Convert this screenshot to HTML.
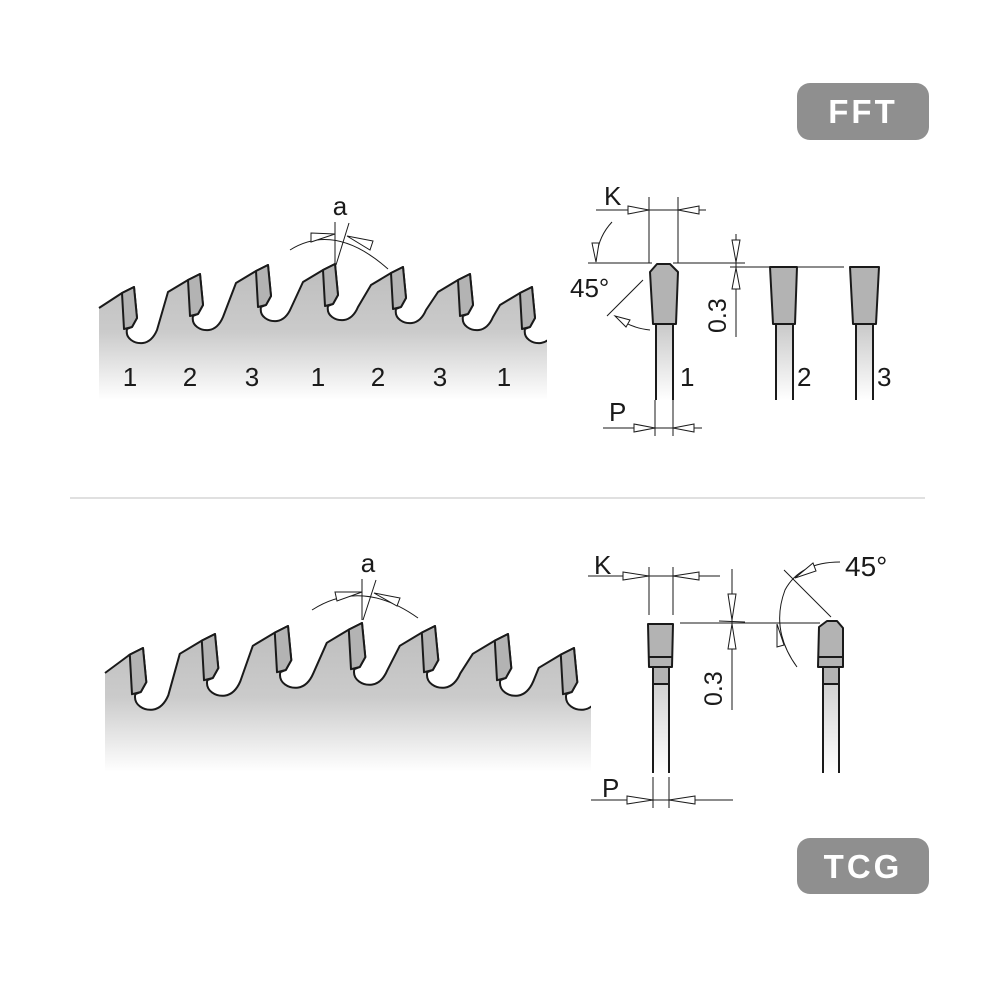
<!DOCTYPE html>
<html><head><meta charset="utf-8"><style>
html,body{margin:0;padding:0;background:#fff;}
svg{display:block;}
text{font-family:"Liberation Sans",sans-serif;fill:#1a1a1a;}
</style></head><body>
<svg id="s" width="1000" height="1000" viewBox="0 0 1000 1000" xmlns="http://www.w3.org/2000/svg">
<defs>
<linearGradient id="g1" x1="0" y1="0" x2="0" y2="1">
<stop offset="0" stop-color="#bdbdbd"/><stop offset="0.5" stop-color="#cbcbcb"/><stop offset="1" stop-color="#ffffff"/>
</linearGradient>
<linearGradient id="g2" x1="0" y1="0" x2="0" y2="1">
<stop offset="0" stop-color="#c9c9c9"/><stop offset="1" stop-color="#ffffff"/>
</linearGradient>
<clipPath id="c1"><rect x="0" y="0" width="547" height="460"/></clipPath>
<clipPath id="c2"><rect x="0" y="500" width="591" height="300"/></clipPath>
</defs>
<g id="saw1" clip-path="url(#c1)"></g>
<g id="saw2" clip-path="url(#c2)"></g>

<line x1="70" y1="498" x2="925" y2="498" stroke="#d6d6d6" stroke-width="1.5"/>

<!-- badges -->
<rect x="797" y="83" width="132" height="57" rx="13" fill="#8f8f8f"/>
<text x="863" y="123" text-anchor="middle" font-size="33" font-weight="bold" style="fill:#fff;letter-spacing:3px">FFT</text>
<rect x="797" y="838" width="132" height="56" rx="13" fill="#8f8f8f"/>
<text x="863" y="878" text-anchor="middle" font-size="33" font-weight="bold" style="fill:#fff;letter-spacing:3px">TCG</text>

<!-- top angle a -->
<g stroke="#1a1a1a" stroke-width="1" fill="#fff">
<text x="340" y="215" text-anchor="middle" font-size="26" stroke="none">a</text>
<line x1="335" y1="222" x2="335" y2="265"/>
<line x1="349" y1="223" x2="336" y2="265"/>
<path d="M290,250 Q335,222 388,269" fill="none"/>
<polygon points="311,233 335,234 311,242"/>
<polygon points="347,236 373,241 370,250"/>
</g>
<!-- bottom angle a -->
<g stroke="#1a1a1a" stroke-width="1" fill="#fff">
<text x="368" y="572" text-anchor="middle" font-size="26" stroke="none">a</text>
<line x1="362" y1="579" x2="362" y2="620"/>
<line x1="376" y1="580" x2="363" y2="620"/>
<path d="M312,610 Q362,578 418,618" fill="none"/>
<polygon points="335,592 362,592 337,601"/>
<polygon points="374,593 400,598 397,606"/>
</g>

<!-- numbers top saw -->
<g font-size="26">
<text x="130" y="386" text-anchor="middle">1</text>
<text x="190" y="386" text-anchor="middle">2</text>
<text x="252" y="386" text-anchor="middle">3</text>
<text x="318" y="386" text-anchor="middle">1</text>
<text x="378" y="386" text-anchor="middle">2</text>
<text x="440" y="386" text-anchor="middle">3</text>
<text x="504" y="386" text-anchor="middle">1</text>
</g>

<!-- FFT detail -->
<g stroke="#1a1a1a" stroke-width="1" fill="#fff">
<text x="604" y="205" font-size="26" stroke="none">K</text>
<line x1="596" y1="210" x2="706" y2="210"/>
<line x1="649" y1="197" x2="649" y2="263"/>
<line x1="678" y1="197" x2="678" y2="263"/>
<polygon points="628,206 649,210 628,214"/>
<polygon points="699,206 678,210 699,214"/>
<line x1="588" y1="263" x2="652" y2="263"/>
<line x1="673" y1="263" x2="745" y2="263"/>
<line x1="730" y1="267" x2="844" y2="267"/>
<line x1="736" y1="234" x2="736" y2="337"/>
<polygon points="732,240 736,262 740,240"/>
<polygon points="732,289 736,268 740,289"/>
<text transform="translate(726,333) rotate(-90)" font-size="25" stroke="none">0.3</text>
<text x="570" y="297" font-size="26" stroke="none">45°</text>
<path d="M612,222 Q597,238 596,262" fill="none"/>
<polygon points="592,243 596,262 599,243"/>
<line x1="607" y1="316" x2="643" y2="280"/>
<path d="M650,330 Q630,328 615,316" fill="none"/>
<polygon points="615,316 630,320 626,327"/>
<text x="609" y="421" font-size="26" stroke="none">P</text>
<line x1="603" y1="428" x2="702" y2="428"/>
<line x1="655" y1="400" x2="655" y2="436"/>
<line x1="673" y1="400" x2="673" y2="436"/>
<polygon points="634,424 655,428 634,432"/>
<polygon points="694,424 673,428 694,432"/>
</g>
<g>
<rect x="656" y="324" width="17" height="76" fill="url(#g2)"/>
<rect x="776" y="324" width="17" height="76" fill="url(#g2)"/>
<rect x="856" y="324" width="17" height="76" fill="url(#g2)"/>
<g stroke="#1a1a1a" stroke-width="2">
<line x1="656" y1="324" x2="656" y2="400"/><line x1="673" y1="324" x2="673" y2="400"/>
<line x1="776" y1="324" x2="776" y2="400"/><line x1="793" y1="324" x2="793" y2="400"/>
<line x1="856" y1="324" x2="856" y2="400"/><line x1="873" y1="324" x2="873" y2="400"/>
</g>
<g stroke="#1a1a1a" stroke-width="2" fill="#b3b3b3" stroke-linejoin="round">
<polygon points="650,272 657,264 670,264 678,272 676,324 653,324"/>
<polygon points="770,267 797,267 795,324 773,324"/>
<polygon points="850,267 879,267 876,324 853,324"/>
</g>
<g font-size="26"><text x="680" y="386">1</text><text x="797" y="386">2</text><text x="877" y="386">3</text></g>
</g>

<!-- TCG detail -->
<g stroke="#1a1a1a" stroke-width="1" fill="#fff">
<text x="594" y="574" font-size="26" stroke="none">K</text>
<line x1="588" y1="576" x2="720" y2="576"/>
<line x1="649" y1="567" x2="649" y2="615"/>
<line x1="673" y1="567" x2="673" y2="615"/>
<polygon points="623,572 649,576 623,580"/>
<polygon points="699,572 673,576 699,580"/>
<line x1="680" y1="623" x2="820" y2="623"/>
<line x1="719" y1="621" x2="745" y2="622"/>
<line x1="732" y1="569" x2="732" y2="710"/>
<polygon points="728,594 732,620 736,594"/>
<polygon points="728,649 732,624 736,649"/>
<text transform="translate(722,706) rotate(-90)" font-size="25" stroke="none">0.3</text>
<text x="845" y="576" font-size="28" stroke="none">45°</text>
<path d="M840,562 Q800,562 785,590 Q770,630 797,667" fill="none"/>
<polygon points="795,578 813,563 816,571"/>
<polygon points="777,624 784,645 777,647"/>
<line x1="784" y1="570" x2="831" y2="617"/>
<text x="602" y="797" font-size="26" stroke="none">P</text>
<line x1="591" y1="800" x2="733" y2="800"/>
<line x1="653" y1="777" x2="653" y2="808"/>
<line x1="669" y1="777" x2="669" y2="808"/>
<polygon points="627,796 653,800 627,804"/>
<polygon points="695,796 669,800 695,804"/>
</g>
<g>
<rect x="653" y="667" width="16" height="106" fill="url(#g2)"/>
<rect x="823" y="667" width="16" height="106" fill="url(#g2)"/>
<rect x="653" y="667" width="16" height="17" fill="#b3b3b3"/>
<rect x="823" y="667" width="16" height="17" fill="#b3b3b3"/>
<g stroke="#1a1a1a" stroke-width="2">
<line x1="653" y1="667" x2="653" y2="773"/><line x1="669" y1="667" x2="669" y2="773"/>
<line x1="823" y1="667" x2="823" y2="773"/><line x1="839" y1="667" x2="839" y2="773"/>
<line x1="653" y1="684" x2="669" y2="684"/><line x1="823" y1="684" x2="839" y2="684"/>
</g>
<g stroke="#1a1a1a" stroke-width="2" fill="#b3b3b3" stroke-linejoin="round">
<polygon points="648,624 673,624 672,667 649,667"/>
<line x1="649" y1="657" x2="672" y2="657"/>
<polygon points="819,627 827,621 837,621 843,628 843,667 818,667"/>
<line x1="818" y1="657" x2="843" y2="657"/>
</g>
</g>
</svg>
<script>
(function(){
var NS="http://www.w3.org/2000/svg";
function saw(gid,startX,startY,tips,s,bottom,grad){
  var g=document.getElementById(gid);
  var d="M"+startX+","+startY;
  var carb=[];
  for(var i=0;i<tips.length;i++){
    var tx=tips[i][0],ty=tips[i][1];
    if(i>0){ d+=" L"+(tx-32*s)+","+(ty+18*s); }
    d+=" L"+(tx-12*s)+","+(ty+6*s)+" L"+tx+","+ty+" L"+(tx+3*s)+","+(ty+31*s)+" L"+(tx-2*s)+","+(ty+40*s)+" L"+(tx-7*s)+","+(ty+42*s);
    d+=" C"+(tx-9*s)+","+(ty+52*s)+" "+(tx+1*s)+","+(ty+57*s)+" "+(tx+9*s)+","+(ty+56*s);
    d+=" C"+(tx+16*s)+","+(ty+55*s)+" "+(tx+20*s)+","+(ty+50*s)+" "+(tx+23*s)+","+(ty+43*s);
    carb.push([tx-12*s,ty+6*s,tx,ty,tx+3*s,ty+31*s,tx-2*s,ty+40*s,tx-10*s,ty+42*s]);
  }
  var last=tips[tips.length-1];
  var ex=last[0]+40*s, ey=last[1]+25*s;
  var dOut=d+" L"+ex+","+ey;
  var fill=document.createElementNS(NS,"path");
  fill.setAttribute("d",dOut+" L"+ex+","+bottom+" L"+startX+","+bottom+" Z");
  fill.setAttribute("fill","url(#"+grad+")");
  g.appendChild(fill);
  var ln=document.createElementNS(NS,"path");
  ln.setAttribute("d",dOut);ln.setAttribute("fill","none");
  ln.setAttribute("stroke","#1a1a1a");ln.setAttribute("stroke-width","2");ln.setAttribute("stroke-linejoin","round");
  g.appendChild(ln);
  carb.forEach(function(c){
    var p=document.createElementNS(NS,"polygon");
    var pts=[];for(var k=0;k<c.length;k+=2)pts.push(c[k].toFixed(1)+","+c[k+1].toFixed(1));
    p.setAttribute("points",pts.join(" "));
    p.setAttribute("fill","#b3b3b3");p.setAttribute("stroke","#1a1a1a");p.setAttribute("stroke-width","2");p.setAttribute("stroke-linejoin","round");
    g.appendChild(p);
  });
}
saw("saw1",99,308,[[134,287],[200,274],[268,265],[335,264],[403,267],[470,274],[532,287]],1,400,"g1");
saw("saw2",105,673,[[143,648],[215,634],[288,626],[362,623],[435,626],[508,634],[574,648]],1.1,772,"g1");
})();
</script>
</body></html>
